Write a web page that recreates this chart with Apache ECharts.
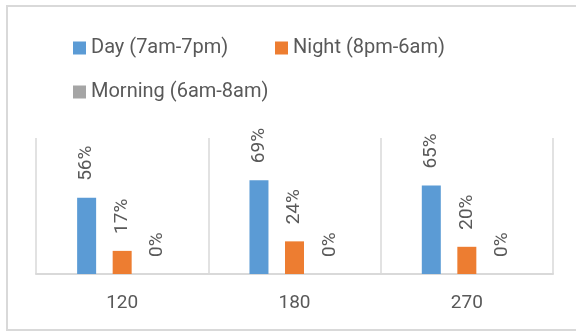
<!DOCTYPE html>
<html>
<head>
<meta charset="utf-8">
<script src="https://cdn.jsdelivr.net/npm/echarts@6/dist/echarts.min.js"></script>
<style>
  html, body { margin: 0; padding: 0; background: #fff; }
  #chart { width: 576px; height: 331px; }
</style>
</head>
<body>
<div id="chart"></div>
<script>
// 数据
var categories = ["120", "180", "270"];
var dayValues = [56, 69, 65];
var nightValues = [17, 24, 20];
var morningValues = [0, 0, 0];
var seriesNames = ["Day (7am-7pm)", "Night (8pm-6am)", "Morning (6am-8am)"];
var colors = ["#5B9BD5", "#ED7D31", "#A5A5A5"];

var textColor = "#595959";
var fontName = "Roboto";

var myChart = echarts.init(document.getElementById("chart"));

var labelStyle = {
  show: true,
  position: "top",
  distance: 17,
  rotate: 90,
  align: "left",
  verticalAlign: "middle",
  color: textColor,
  fontFamily: fontName,
  fontSize: 19,
  formatter: function(p) {
    return p.value + "%";
  }
};

function legendAt(name, left, top) {
  return {
    data: [name],
    left: left,
    top: top,
    itemWidth: 13,
    itemHeight: 13,
    icon: "rect",
    selectedMode: false,
    textStyle: { color: textColor, fontFamily: fontName, fontSize: 20 }
  };
}

myChart.setOption({
  animation: false,
  color: colors,
  graphic: [
    {
      type: "rect",
      shape: { x: 7, y: 6, width: 620, height: 324 },
      style: { fill: null, stroke: "#D9D9D9", lineWidth: 2 },
      silent: true
    }
  ],
  legend: [
    legendAt(seriesNames[0], 68, 33),
    legendAt(seriesNames[1], 270, 33),
    legendAt(seriesNames[2], 68, 77)
  ],
  grid: {
    left: 36,
    right: 23,
    top: 138,
    bottom: 57
  },
  xAxis: {
    type: "category",
    data: categories,
    axisLine: { lineStyle: { color: "#D9D9D9", width: 2 } },
    axisTick: { show: false },
    splitLine: { show: true, lineStyle: { color: "#D9D9D9", width: 1.5 } },
    axisLabel: {
      color: textColor,
      fontFamily: fontName,
      fontSize: 19,
      margin: 20
    }
  },
  yAxis: {
    type: "value",
    min: 0,
    max: 100,
    show: false
  },
  series: [
    {
      name: seriesNames[0],
      type: "bar",
      data: dayValues,
      barWidth: 19,
      barGap: "87%",
      label: labelStyle
    },
    {
      name: seriesNames[1],
      type: "bar",
      data: nightValues,
      barWidth: 19,
      barGap: "87%",
      label: labelStyle
    },
    {
      name: seriesNames[2],
      type: "bar",
      data: morningValues,
      barWidth: 19,
      barGap: "87%",
      label: labelStyle
    }
  ]
});
</script>
</body>
</html>
